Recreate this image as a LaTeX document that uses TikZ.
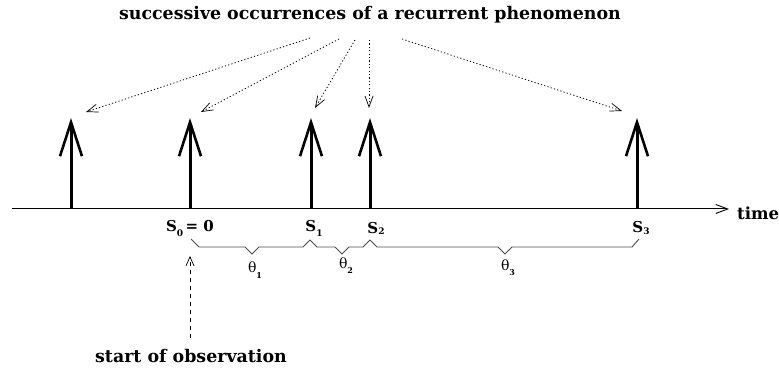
\documentclass[tikz,border=0pt]{standalone}
\usepackage{fontspec}
\setmainfont{DejaVu Serif}
\usetikzlibrary{arrows.meta}
\begin{document}
\begin{tikzpicture}[x=1pt,y=-1pt,
  spike/.style={line width=3pt,-{Straight Barb[length=34pt,width=22pt,line width=2.6pt]}},
  pointer/.style={line width=0.8pt,dash pattern=on 1.2pt off 2.2pt,-{Straight Barb[length=11pt,width=8pt,line width=0.7pt]}},
  brace/.style={line width=0.9pt,black!70},
  lbl/.style={font=\bfseries\fontsize{15}{18}\selectfont,inner sep=0pt},
  biglbl/.style={font=\bfseries\fontsize{17.4}{20}\selectfont,inner sep=0pt},
  thlbl/.style={font=\fontsize{14}{16}\selectfont,inner sep=0pt}]
\useasboundingbox (0,0) rectangle (779,371);
% axis
\coordinate (axL) at (12,209);
\coordinate (axR) at (729,209);
\draw[line width=1pt,-{Straight Barb[length=12pt,width=9pt,line width=0.9pt]}] (axL) -- (axR);
\node[lbl,font=\bfseries\fontsize{16.6}{18}\selectfont,anchor=west] (time) at (737,213) {time};
% spikes
\foreach \n/\x in {a/71,b/190,c/311,d/370,e/637}{
  \coordinate (\n0) at (\x,209);
  \coordinate (\n1) at (\x,118);
  \draw[spike] (\n0) -- (\n1);
}
% title
\node[biglbl] (title) at (370,15) {successive occurrences of a recurrent phenomenon};
\coordinate (p1) at (310,38);
\coordinate (p2) at (339,39);
\coordinate (p3) at (355,40);
\coordinate (p4) at (369,40);
\coordinate (p5) at (402,39);
\coordinate (t1) at (86,112);
\coordinate (t2) at (201,112);
\coordinate (t3) at (315,108);
\coordinate (t4) at (369,108);
\coordinate (t5) at (622,111);
\draw[pointer] (p1) -- (t1);
\draw[pointer] (p2) -- (t2);
\draw[pointer] (p3) -- (t3);
\draw[pointer] (p4) -- (t4);
\draw[pointer] (p5) -- (t5);
% S labels
\node[lbl] (s0) at (190,228) {S\raisebox{-5pt}{\fontsize{9}{9}\selectfont 0}\,= 0};
\node[lbl] (s1) at (314,228) {S\raisebox{-5pt}{\fontsize{9}{9}\selectfont 1}};
\node[lbl] (s2) at (376,228) {S\raisebox{-1pt}{\fontsize{9}{9}\selectfont 2}};
\node[lbl] (s3) at (641,228) {S\raisebox{-2pt}{\fontsize{9}{9}\selectfont 3}};
% braces
\draw[brace] (191,239) -- (199,247) -- (245,247) -- (252,254) -- (259,247) -- (303,247) -- (310,240)
  -- (317,247) -- (335,247) -- (342,254) -- (349,247) -- (363,247) -- (370,240)
  -- (377,247) -- (498,247) -- (505,254) -- (512,247) -- (632,247) -- (639,239);
\node[thlbl] (th1) at (255,270) {θ\raisebox{-6pt}{\bfseries\fontsize{8}{8}\selectfont 1}};
\node[thlbl] (th2) at (346,266) {θ\raisebox{-5pt}{\bfseries\fontsize{8}{8}\selectfont 2}};
\node[thlbl] (th3) at (508,268) {θ\raisebox{-5pt}{\bfseries\fontsize{8}{8}\selectfont 3}};
% start of observation
\node[biglbl] (obs) at (191,356) {start of observation};
\coordinate (o1) at (190,338);
\coordinate (o2) at (190,256);
\draw[line width=0.9pt,dash pattern=on 4pt off 4pt,-{Straight Barb[length=9pt,width=8pt,line width=0.7pt]}] (o1) -- (o2);
\end{tikzpicture}
\end{document}
